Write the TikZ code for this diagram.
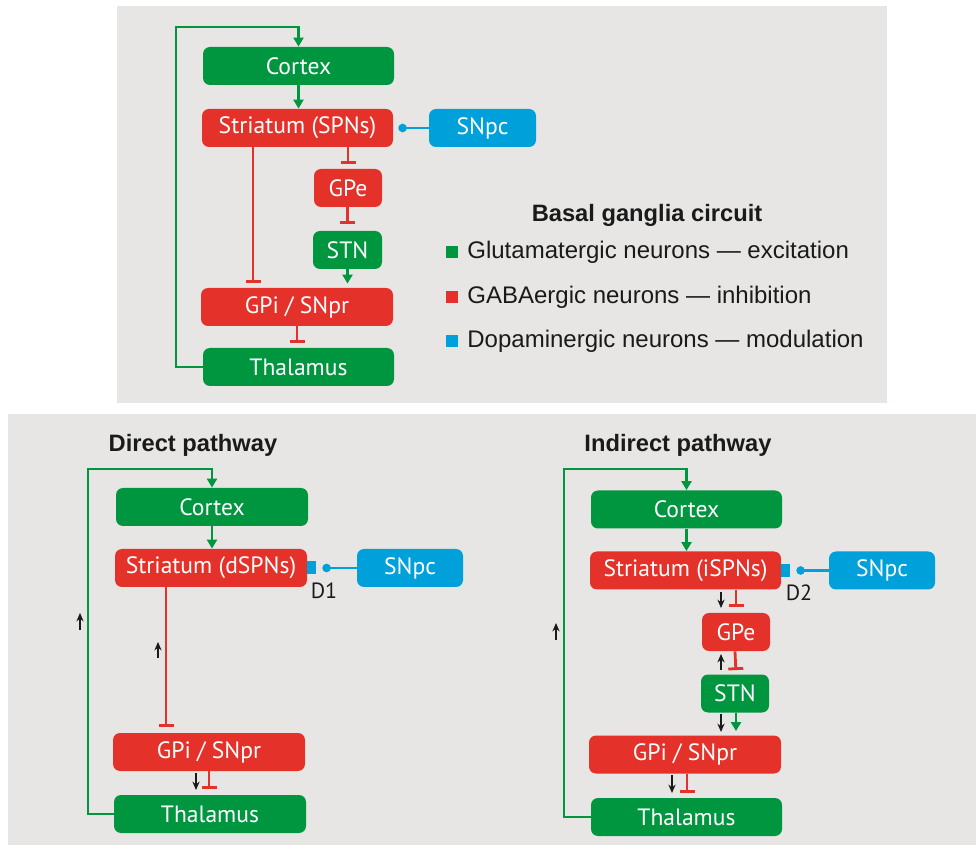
\documentclass[tikz,border=0pt]{standalone}
\usepackage{fontspec}
\setmainfont{Liberation Sans}
\newfontfamily\nodefont{PT Sans}
\usetikzlibrary{arrows.meta}
\definecolor{gn}{RGB}{0,150,64}
\definecolor{rd}{RGB}{228,50,42}
\definecolor{bl}{RGB}{0,160,218}
\definecolor{panel}{RGB}{231,230,228}
\definecolor{txt}{RGB}{26,26,26}
\tikzset{
  box/.style={rounded corners=3.5pt, minimum height=19pt, inner sep=0pt, text=white,
              font=\nodefont\fontsize{11.8}{13}\selectfont},
  gbox/.style={box, fill=gn},
  rbox/.style={box, fill=rd},
  bbox/.style={box, fill=bl},
  exc/.style={gn, line width=1.4pt, -{Triangle[width=5pt,length=4.5pt]}},
  inh/.style={rd, line width=1.4pt, -{Bar[width=7.5pt]}},
  mod/.style={bl, line width=1.4pt, -{Circle[length=4.2pt]}},
  sm/.style={txt, line width=0.9pt, -{Stealth[width=3.6pt,length=4.2pt]}},
  ttl/.style={font=\bfseries\fontsize{11.85}{14}\selectfont, text=txt},
  leg/.style={font=\fontsize{12}{14}\selectfont, text=txt, anchor=west, inner sep=0pt},
  sq/.style={minimum size=6pt, inner sep=0pt},
  rec/.style={fill=bl, minimum width=4.5pt, minimum height=6.5pt, inner sep=0pt},
  dlab/.style={font=\nodefont\fontsize{11}{12}\selectfont, text=txt, inner sep=0pt}
}
\begin{document}
\begin{tikzpicture}[x=0.5pt,y=-0.5pt]
\useasboundingbox (0,0) rectangle (976,845);
\fill[white] (0,0) rectangle (976,845);
\fill[panel] (117,6) rectangle (887,403);
\fill[panel] (8,414) rectangle (976,845);

% ---------- top circuit ----------
\node[gbox, minimum width=95.5pt] (cor) at (298.5,66) {Cortex};
\node[rbox, minimum width=95.5pt] (str) at (297.5,128) {Striatum (SPNs)};
\node[bbox, minimum width=53.5pt] (snc) at (482.5,128) {SNpc};
\node[rbox, minimum width=34pt] (gpe) at (348,188) {GPe};
\node[gbox, minimum width=34.5pt] (stn) at (347.5,250) {STN};
\node[rbox, minimum width=96pt] (gpi) at (297,307) {GPi / SNpr};
\node[gbox, minimum width=95.5pt] (tha) at (298.5,367) {Thalamus};
\coordinate (tl) at (176,27);

\draw[exc] (tha.west) -| (tl) -| (cor.north);
\draw[exc] (cor.south) -- (cor.south |- str.north);
\draw[inh, shorten >=2.5pt] (str.south -| gpe.north) -- (gpe.north);
\draw[inh, shorten >=3.5pt] (gpe.south -| stn.north) -- (stn.north);
\draw[exc, shorten >=2pt] (stn.south) -- (stn.south |- gpi.north);
\draw[inh, shorten >=2.5pt] (str.south -| 253,0) -- (gpi.north -| 253,0);
\draw[inh, shorten >=2.5pt] (gpi.south) -- (gpi.south |- tha.north);
\draw[mod, shorten >=2.5pt] (snc.west) -- (str.east);

% legend
\node[ttl] (lt) at (647,215) {Basal ganglia circuit};
\node[sq, fill=gn] (s1) at (452,252) {};
\node[sq, fill=rd] (s2) at (452,297) {};
\node[sq, fill=bl] (s3) at (452,341) {};
\node[leg] (l1) at (467,252) {Glutamatergic neurons — excitation};
\node[leg] (l2) at (467,297) {GABAergic neurons — inhibition};
\node[leg] (l3) at (467,341) {Dopaminergic neurons — modulation};

% ---------- direct pathway ----------
\node[ttl] (dt) at (193,445) {Direct pathway};
\node[gbox, minimum width=96pt] (dcor) at (212,507) {Cortex};
\node[rbox, minimum width=96pt] (dstr) at (211,568) {Striatum (dSPNs)};
\node[rec] (d1r) at (311.5,568) {};
\node[dlab] (d1l) at (324,591) {D1};
\node[bbox, minimum width=53pt] (dsnc) at (410,568) {SNpc};
\node[rbox, minimum width=96pt] (dgpi) at (209,752) {GPi / SNpr};
\node[gbox, minimum width=96pt] (dtha) at (210,814) {Thalamus};
\coordinate (dtl) at (88,469);

\draw[exc] (dtha.west) -| (dtl) -| (dcor.north);
\draw[exc] (dcor.south) -- (dcor.south |- dstr.north);
\draw[inh, shorten >=3pt] (dstr.south -| 166,0) -- (dgpi.north -| 166,0);
\draw[inh, shorten >=3pt] (dgpi.south) -- (dgpi.south |- dtha.north);
\draw[mod, shorten >=3pt] (dsnc.west) -- (d1r.east);

\coordinate (da1) at (196,773); \coordinate (da2) at (196,790);
\coordinate (db1) at (158,658); \coordinate (db2) at (158,642);
\coordinate (dc1) at (80,630);  \coordinate (dc2) at (80,613);
\draw[sm] (da1) -- (da2);
\draw[sm] (db1) -- (db2);
\draw[sm] (dc1) -- (dc2);

% ---------- indirect pathway ----------
\node[ttl] (it) at (678,445) {Indirect pathway};
\node[gbox, minimum width=95.5pt] (icor) at (686.5,509.5) {Cortex};
\node[rbox, minimum width=95.5pt] (istr) at (685.5,570.5) {Striatum (iSPNs)};
\node[rec] (d2r) at (785.5,570.5) {};
\node[dlab] (d2l) at (799,593) {D2};
\node[bbox, minimum width=53pt] (isnc) at (882,570.5) {SNpc};
\node[rbox, minimum width=34pt] (igpe) at (736,632) {GPe};
\node[gbox, minimum width=34pt] (istn) at (735,693.5) {STN};
\node[rbox, minimum width=96pt] (igpi) at (685,754.5) {GPi / SNpr};
\node[gbox, minimum width=95.5pt] (itha) at (686.5,817) {Thalamus};
\coordinate (itl) at (564,469);

\draw[exc] (itha.west) -| (itl) -| (icor.north);
\draw[exc] (icor.south) -- (icor.south |- istr.north);
\draw[inh, shorten >=3pt] (istr.south -| igpe.north) -- (igpe.north);
\draw[inh, shorten >=2pt] (igpe.south -| istn.north) -- (istn.north -| igpe.north);
\draw[exc, shorten >=2pt] (istn.south -| igpe.north) -- (igpi.north -| igpe.north);
\draw[inh, shorten >=2.5pt] (igpi.south -| 687,0) -- (itha.north -| 687,0);
\draw[mod, shorten >=3pt] (isnc.west) -- (d2r.east);

\coordinate (ia1) at (721,592); \coordinate (ia2) at (721,608);
\coordinate (ib1) at (721,670); \coordinate (ib2) at (721,654);
\coordinate (ic1) at (721,714); \coordinate (ic2) at (721,732);
\coordinate (id1) at (672,775); \coordinate (id2) at (672,793);
\coordinate (ie1) at (556,640); \coordinate (ie2) at (556,623);
\draw[sm] (ia1) -- (ia2);
\draw[sm] (ib1) -- (ib2);
\draw[sm] (ic1) -- (ic2);
\draw[sm] (id1) -- (id2);
\draw[sm] (ie1) -- (ie2);
\end{tikzpicture}
\end{document}
